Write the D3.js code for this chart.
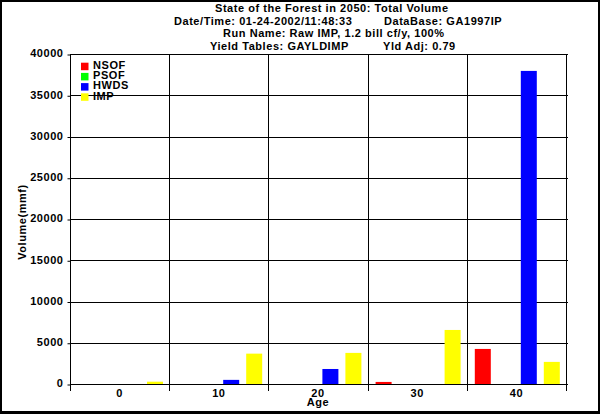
<!DOCTYPE html>
<html>
<head>
<meta charset="utf-8">
<script src="https://cdn.jsdelivr.net/npm/d3@7"></script>
<style>
  html, body { margin: 0; padding: 0; background: #fff; }
  svg text { font-family: "Liberation Sans", Arial, sans-serif; font-weight: bold; font-size: 11px; letter-spacing: 0.55px; fill: #000; }
</style>
</head>
<body>
<svg id="chart" width="600" height="414"></svg>
<script>
// ---- data ----
const categories = ["0", "10", "20", "30", "40"];
const seriesNames = ["NSOF", "PSOF", "HWDS", "IMP"];
const NSOF = [0, 0, 0, 250, 4250];
const PSOF = [0, 0, 0, 0, 0];
const HWDS = [0, 500, 1820, 0, 37950];
const IMP  = [280, 3680, 3770, 6550, 2680];
const yTickValues = [0, 5000, 10000, 15000, 20000, 25000, 30000, 35000, 40000];
const titleLine1 = "State of the Forest in 2050: Total Volume";
const titleLine2a = "Date/Time: 01-24-2002/11:48:33";
const titleLine2b = "DataBase: GA1997IP";
const titleLine3 = "Run Name: Raw IMP, 1.2 bill cf/y, 100%";
const titleLine4a = "Yield Tables: GAYLDIMP";
const titleLine4b = "Yld Adj: 0.79";
const yAxisLabel = "Volume(mmf)";
const xAxisLabel = "Age";
const colors = ["#ff0000", "#00ff00", "#0000ff", "#ffff00"];

const seriesValues = [NSOF, PSOF, HWDS, IMP];
const table = categories.map((c, i) => ({
  cat: c,
  vals: seriesNames.map((s, j) => ({ name: s, value: seriesValues[j][i], color: colors[j] }))
}));

// ---- layout ----
const svg = d3.select("#chart");
const plotL = 70, plotR = 566, plotT = 54, plotB = 384;

const x = d3.scaleBand().domain(categories).range([plotL, plotR]).padding(0);
const x1 = d3.scaleBand().domain(seriesNames).range([8, 93]).paddingInner(7 / 23).paddingOuter(0);
const y = d3.scaleLinear().domain([0, 40000]).range([plotB, plotT]);

// outer frame
svg.append("line").attr("x1", 0).attr("x2", 600).attr("y1", 1).attr("y2", 1).attr("stroke", "#000").attr("stroke-width", 2);
svg.append("line").attr("x1", 1).attr("x2", 1).attr("y1", 0).attr("y2", 414).attr("stroke", "#000").attr("stroke-width", 2);
svg.append("line").attr("x1", 599).attr("x2", 599).attr("y1", 0).attr("y2", 414).attr("stroke", "#000").attr("stroke-width", 2);
svg.append("line").attr("x1", 0).attr("x2", 600).attr("y1", 412.5).attr("y2", 412.5).attr("stroke", "#000").attr("stroke-width", 3);

// horizontal gridlines
svg.append("g").selectAll("line").data(yTickValues).join("line")
  .attr("x1", plotL).attr("x2", plotR + 2)
  .attr("y1", d => Math.round(y(d)) + 0.5).attr("y2", d => Math.round(y(d)) + 0.5)
  .attr("stroke", "#000").attr("stroke-width", 1);

// vertical gridlines at category boundaries (extend below axis as ticks)
const bounds = categories.map(c => x(c)).concat([x(categories[categories.length - 1]) + x.bandwidth()]);
svg.append("g").selectAll("line").data(bounds).join("line")
  .attr("x1", d => Math.round(d) + 0.5).attr("x2", d => Math.round(d) + 0.5)
  .attr("y1", plotT).attr("y2", plotB + 7)
  .attr("stroke", "#000").attr("stroke-width", 1);

// y axis (labels + short ticks)
const yAxis = svg.append("g").attr("transform", `translate(${plotL + 0.5},0.5)`)
  .call(d3.axisLeft(y).tickValues(yTickValues).tickSize(3).tickPadding(4).tickFormat(d3.format("d")));
yAxis.attr("font-family", null).attr("font-size", null);
yAxis.select(".domain").remove();
yAxis.selectAll("line").attr("stroke", "#000");
yAxis.selectAll("text").attr("dy", "0.22em");

// x axis labels
const xAxis = svg.append("g").attr("transform", `translate(0,${plotB})`)
  .call(d3.axisBottom(x).tickSize(0).tickPadding(0));
xAxis.attr("font-family", null).attr("font-size", null);
xAxis.select(".domain").remove();
xAxis.selectAll("text").attr("y", 13).attr("dy", null);

// bars
const groups = svg.append("g").selectAll("g").data(table).join("g")
  .attr("transform", d => `translate(${x(d.cat)},0)`);
groups.selectAll("rect").data(d => d.vals.filter(v => v.value > 0)).join("rect")
  .attr("x", d => x1(d.name))
  .attr("width", x1.bandwidth())
  .attr("y", d => y(d.value))
  .attr("height", d => y(0) - y(d.value))
  .attr("fill", d => d.color);

// legend
const legend = svg.append("g").selectAll("g").data(seriesNames).join("g")
  .attr("transform", (d, i) => `translate(81,${62.7 + i * 10.2})`);
legend.append("rect").attr("width", 7.5).attr("height", 7.5).attr("fill", (d, i) => colors[i]);
legend.append("text").attr("x", 12).attr("y", 6.3).text(d => d);

// titles
const t = svg.append("g");
t.append("text").attr("x", 215).attr("y", 12).text(titleLine1);
t.append("text").attr("x", 174).attr("y", 24.5).text(titleLine2a);
t.append("text").attr("x", 384).attr("y", 24.5).text(titleLine2b);
t.append("text").attr("x", 223).attr("y", 37).text(titleLine3);
t.append("text").attr("x", 210).attr("y", 50).text(titleLine4a);
t.append("text").attr("x", 383).attr("y", 50).text(titleLine4b);

// axis titles
svg.append("text").attr("transform", "translate(25.5,222) rotate(-90)").attr("text-anchor", "middle").text(yAxisLabel);
svg.append("text").attr("x", (plotL + plotR) / 2).attr("y", 405.5).attr("text-anchor", "middle").text(xAxisLabel);
</script>
</body>
</html>
